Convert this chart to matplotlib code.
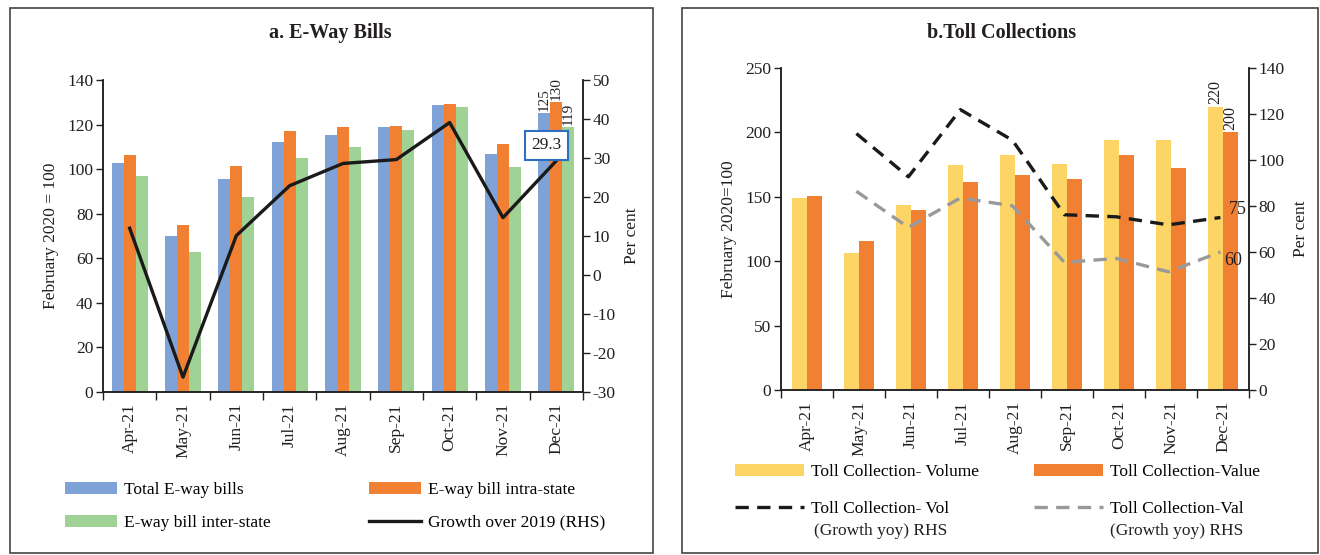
import numpy as np
import matplotlib
matplotlib.use("Agg")
import matplotlib.pyplot as plt
from matplotlib.patches import Rectangle

plt.rcParams["font.family"] = ["Liberation Serif", "DejaVu Serif"]
plt.rcParams["font.size"] = 12.5
plt.rcParams["axes.unicode_minus"] = False

months = ["Apr-21", "May-21", "Jun-21", "Jul-21", "Aug-21", "Sep-21", "Oct-21", "Nov-21", "Dec-21"]

# a. E-way bills (index, Feb 2020 = 100) and growth over 2019 (per cent)
eway_total = [102.6, 69.9, 95.6, 112.2, 115.2, 118.8, 128.6, 106.8, 125]
eway_intra = [106.5, 75.0, 101.3, 117.1, 118.9, 119.4, 129.1, 111.2, 130]
eway_inter = [97.0, 62.6, 87.3, 105.0, 109.8, 117.7, 127.9, 100.9, 119]
eway_growth = [12.0, -26.2, 10.1, 22.9, 28.6, 29.6, 39.1, 14.7, 29.3]

# b. Toll collections (index, Feb 2020 = 100) and yoy growth (per cent)
toll_volume = [149.4, 106.0, 143.5, 174.5, 182.8, 175.8, 194.4, 194.4, 220]
toll_value = [151.0, 115.3, 140.1, 161.6, 167.3, 163.7, 182.3, 172.7, 200]
toll_vol_growth = [np.nan, 111.5, 92.7, 121.9, 108.6, 76.2, 75.3, 71.8, 75]
toll_val_growth = [np.nan, 86.4, 70.7, 83.5, 80.1, 55.5, 57.2, 51.4, 60]

BLUE = "#7fa3d7"; ORANGE = "#f28033"; GREEN = "#9fd294"
YELLOW = "#fdd466"; GREY = "#999999"; INK = "#231f20"

W, H = 1320, 555
fig = plt.figure(figsize=(W / 100, H / 100), dpi=100)


def px(x0, y0, x1, y1):
    """pixel box (left, top, right, bottom) -> figure rect"""
    return [x0 / W, 1 - y1 / H, (x1 - x0) / W, (y1 - y0) / H]


def frame(x0, y0, x1, y1):
    r = px(x0, y0, x1, y1)
    fig.patches.append(Rectangle((r[0], r[1]), r[2], r[3], transform=fig.transFigure,
                                 fill=False, edgecolor="#444444", lw=1.2))


def style_axes(ax, ax2, n):
    ax.set_xlim(-0.5, n - 0.5)
    ax.set_xticks(np.arange(n + 1) - 0.5)
    ax.set_xticklabels([])
    ax.set_xticks(np.arange(n), minor=True)
    ax.set_xticklabels(months, minor=True, rotation=90)
    ax.tick_params(axis="x", which="major", direction="out", length=6, width=1, color=INK)
    ax.tick_params(axis="x", which="minor", length=0, pad=8, colors=INK)
    ax.tick_params(axis="y", direction="out", length=5, width=1, colors=INK, pad=2)
    ax2.tick_params(axis="y", direction="out", length=5, width=1, colors=INK, pad=2)
    for a in (ax, ax2):
        a.spines["top"].set_visible(False)
        for sp in ("left", "right", "bottom"):
            a.spines[sp].set_color(INK)
            a.spines[sp].set_linewidth(1.1)
    ax.set_facecolor("none")


def legend_col(handles, labels, x, y, hl, spacing):
    """one legend column, its top-left corner at pixel (x, y)"""
    return fig.legend(handles, labels, loc="upper left", bbox_to_anchor=(x / W, 1 - y / H),
                      frameon=False, handlelength=hl, handleheight=0.7, handletextpad=0.4,
                      labelspacing=spacing, borderpad=0, borderaxespad=0)


frame(10, 8, 653, 553)
frame(682, 8, 1318, 553)

# ---- panel a ----
x = np.arange(len(months))
bw = 0.225
axa = fig.add_axes(px(103, 80, 583, 392))
axa2 = axa.twinx()
axa.set_zorder(axa2.get_zorder() - 1)
axa2.patch.set_visible(False)
b1 = axa.bar(x - bw, eway_total, bw, color=BLUE)
b2 = axa.bar(x, eway_intra, bw, color=ORANGE)
b3 = axa.bar(x + bw, eway_inter, bw, color=GREEN)
for bars, vals in ((b1, eway_total), (b2, eway_intra), (b3, eway_inter)):
    r = bars[-1]
    axa.text(r.get_x() + r.get_width() / 2, vals[-1] + 1, f"{vals[-1]:g}", rotation=90,
             ha="center", va="bottom", color=INK, fontsize=11)
axa.set_ylim(0, 140)
axa.set_yticks(np.arange(0, 141, 20))
axa.set_ylabel("February 2020 = 100", color=INK, labelpad=6)
la, = axa2.plot(x, eway_growth, color="#1a1a1a", lw=2.4)
axa2.set_ylim(-30, 50)
axa2.set_yticks(np.arange(-30, 51, 10))
axa2.set_ylabel("Per cent", color=INK, labelpad=6)
axa2.annotate(f"{eway_growth[-1]:.1f}", (x[-1], eway_growth[-1]), xytext=(-7, 11),
              textcoords="offset points", ha="center", va="center", color=INK,
              bbox=dict(boxstyle="square,pad=0.35", fc="white", ec="#2f6fbf", lw=1.5))
style_axes(axa, axa2, len(months))
fig.text(330 / W, 1 - 33 / H, "a. E-Way Bills", ha="center", va="center",
         fontsize=14.5, fontweight="bold", color=INK)
legend_col([b1, b3], ["Total E-way bills", "E-way bill inter-state"], 65, 482, 3.0, 0.95)
legend_col([b2, la], ["E-way bill intra-state", "Growth over 2019 (RHS)"], 369, 482, 3.0, 0.95)

# ---- panel b ----
bw = 0.29
axb = fig.add_axes(px(781, 68, 1249, 390))
axb2 = axb.twinx()
axb.set_zorder(axb2.get_zorder() - 1)
axb2.patch.set_visible(False)
c1 = axb.bar(x - bw / 2, toll_volume, bw, color=YELLOW)
c2 = axb.bar(x + bw / 2, toll_value, bw, color=ORANGE)
for bars, vals in ((c1, toll_volume), (c2, toll_value)):
    r = bars[-1]
    axb.text(r.get_x() + r.get_width() / 2, vals[-1] + 2, f"{vals[-1]:g}", rotation=90,
             ha="center", va="bottom", color=INK, fontsize=11.5)
axb.set_ylim(0, 250)
axb.set_yticks(np.arange(0, 251, 50))
axb.set_ylabel("February 2020=100", color=INK, labelpad=6)
lv, = axb2.plot(x - 0.05, toll_vol_growth, color="#1a1a1a", lw=2.4, dashes=(4, 2.5))
lg, = axb2.plot(x - 0.05, toll_val_growth, color=GREY, lw=2.4, dashes=(4, 2.5))
axb2.annotate(f"{toll_vol_growth[-1]:g}", (x[-1], toll_vol_growth[-1]), xytext=(4, 6),
              textcoords="offset points", ha="left", va="center", color=INK, fontsize=13)
axb2.annotate(f"{toll_val_growth[-1]:g}", (x[-1], toll_val_growth[-1]), xytext=(1, -6),
              textcoords="offset points", ha="left", va="center", color=INK, fontsize=13)
axb2.set_ylim(0, 140)
axb2.set_yticks(np.arange(0, 141, 20))
axb2.set_ylabel("Per cent", color=INK, labelpad=6)
style_axes(axb, axb2, len(months))
fig.text(1002 / W, 1 - 33 / H, "b.Toll Collections", ha="center", va="center",
         fontsize=14.5, fontweight="bold", color=INK)
legend_col([c1, lv], ["Toll Collection- Volume", "Toll Collection- Vol"], 735, 464, 4.0, 1.2)
legend_col([c2, lg], ["Toll Collection-Value", "Toll Collection-Val"], 1034, 464, 4.0, 1.2)
# second line of the two growth-series labels
fig.text(814 / W, 1 - 531 / H, "(Growth yoy) RHS", ha="left", va="center", color=INK)
fig.text(1110 / W, 1 - 531 / H, "(Growth yoy) RHS", ha="left", va="center", color=INK)

fig.savefig("out.png", dpi=100, facecolor="white")
